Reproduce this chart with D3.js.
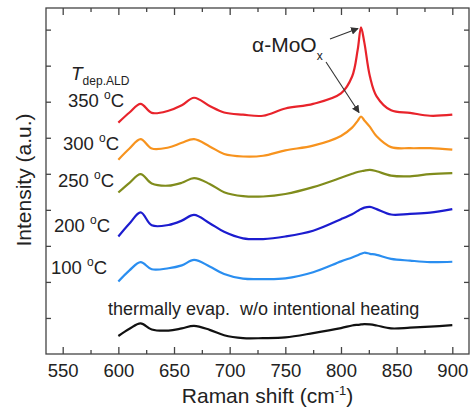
<!DOCTYPE html>
<html>
<head>
<meta charset="utf-8" />
<title>Raman spectra MoOx</title>
<style type="text/css">
  body { margin: 0; background: #fff; }
  text { font-family: "Liberation Sans", Arial, sans-serif; fill: #222; }
</style>
<script src="https://d3js.org/d3.v7.min.js"></script>
</head>
<body>
<div id="chart-container"></div>
<script>

// wavenumbers (cm-1)
var shift = [600, 610, 620, 630, 645, 657, 668, 682, 695, 712, 730, 750, 775, 800, 810, 815, 818, 821, 826, 832, 845, 862, 880, 900];

// intensities (offset, a.u.)
var t350 = [6.42, 6.70, 6.94, 6.69, 6.75, 6.90, 7.11, 6.88, 6.70, 6.64, 6.61, 6.81, 6.94, 7.23, 7.70, 8.44, 9.06, 8.64, 7.70, 7.15, 6.76, 6.69, 6.61, 6.64];
var t300 = [5.39, 5.70, 5.96, 5.70, 5.73, 5.86, 5.96, 5.76, 5.55, 5.48, 5.50, 5.65, 5.78, 6.05, 6.28, 6.47, 6.59, 6.48, 6.30, 6.04, 5.74, 5.71, 5.71, 5.67];
var t250 = [4.48, 4.75, 4.99, 4.73, 4.67, 4.75, 4.88, 4.72, 4.49, 4.38, 4.37, 4.44, 4.63, 4.89, 5.00, 5.05, 5.07, 5.09, 5.11, 5.07, 4.95, 4.93, 4.99, 5.02];
var t200 = [3.26, 3.62, 3.93, 3.57, 3.58, 3.70, 3.86, 3.63, 3.39, 3.21, 3.19, 3.26, 3.42, 3.74, 3.88, 3.97, 4.02, 4.06, 4.08, 4.02, 3.87, 3.89, 3.92, 4.02];
var t100 = [2.01, 2.32, 2.55, 2.35, 2.38, 2.46, 2.61, 2.43, 2.22, 2.09, 2.08, 2.10, 2.27, 2.57, 2.68, 2.74, 2.78, 2.81, 2.78, 2.75, 2.64, 2.59, 2.55, 2.56];
var tEvap = [0.50, 0.70, 0.85, 0.68, 0.65, 0.71, 0.78, 0.67, 0.52, 0.44, 0.44, 0.46, 0.58, 0.72, 0.79, 0.81, 0.82, 0.83, 0.82, 0.79, 0.71, 0.73, 0.76, 0.80];

var seriesNames = ["350", "300", "250", "200", "100", "evap"];
var seriesColors = ["#e8232b", "#f7931e", "#808c1c", "#1c1ccf", "#2a8ef0", "#111111"];
var xTicks = [550, 600, 650, 700, 750, 800, 850, 900];

var margin = {top: 8, right: 3, bottom: 57, left: 46},
    width = 472 - margin.left - margin.right,
    height = 411 - margin.top - margin.bottom;

var svg = d3.select("#chart-container")
  .append("svg")
    .attr("width", width + margin.left + margin.right)
    .attr("height", height + margin.top + margin.bottom)
  .append("g")
    .attr("transform", "translate(" + margin.left + "," + margin.top + ")");

var x = d3.scaleLinear().domain([535, 915]).range([0, width]);
var y = d3.scaleLinear().domain([0, 9.6]).range([height, 0]);

// frame
svg.append("rect")
  .attr("width", width).attr("height", height)
  .attr("fill", "none").attr("stroke", "#444").attr("stroke-width", 1.3);

var minor = d3.range(575, 900, 50);
var yTickVals = d3.range(1, 10);

function tickStyle(g) {
  g.select(".domain").remove();
  g.selectAll("line").attr("stroke", "#444").attr("stroke-width", 1.3);
}

// bottom axis (ticks inward)
svg.append("g")
  .attr("transform", "translate(0," + height + ")")
  .call(d3.axisBottom(x).tickValues(xTicks).tickSizeInner(-7).tickSizeOuter(0).tickPadding(10).tickFormat(d3.format("d")))
  .call(tickStyle)
  .selectAll("text")
    .style("font-size", "18.5px").attr("fill", "#222").style("font-family", "Liberation Sans, Arial, sans-serif");

svg.append("g")
  .attr("transform", "translate(0," + height + ")")
  .call(d3.axisBottom(x).tickValues(minor).tickSizeInner(-4).tickSizeOuter(0).tickFormat(""))
  .call(tickStyle);

// top axis
svg.append("g")
  .call(d3.axisTop(x).tickValues(xTicks).tickSizeInner(-7).tickSizeOuter(0).tickFormat(""))
  .call(tickStyle);
svg.append("g")
  .call(d3.axisTop(x).tickValues(minor).tickSizeInner(-4).tickSizeOuter(0).tickFormat(""))
  .call(tickStyle);

// left / right axes
svg.append("g")
  .call(d3.axisLeft(y).tickValues(yTickVals).tickSizeInner(-5).tickSizeOuter(0).tickFormat(""))
  .call(tickStyle);
svg.append("g")
  .attr("transform", "translate(" + width + ",0)")
  .call(d3.axisRight(y).tickValues(yTickVals).tickSizeInner(-5).tickSizeOuter(0).tickFormat(""))
  .call(tickStyle);

// spectra
var allSeries = [t350, t300, t250, t200, t100, tEvap];
var line = d3.line()
  .x(function(d, i) { return x(shift[i]); })
  .y(function(d) { return y(d); })
  .curve(d3.curveCatmullRom.alpha(0.5));

svg.selectAll(".spec")
  .data(allSeries)
  .enter()
  .append("path")
  .attr("class", "spec")
  .attr("d", function(d) { return line(d); })
  .attr("fill", "none")
  .attr("stroke", function(d, i) { return seriesColors[i]; })
  .attr("stroke-width", 2.2)
  .attr("stroke-linejoin", "round");

// temperature labels
var labelPos = [[22, 99], [17, 142], [12, 179], [8, 224], [5, 266]];
var tempLabels = svg.selectAll(".tlab")
  .data(labelPos)
  .enter()
  .append("text")
  .attr("class", "tlab")
  .attr("x", function(d) { return d[0]; })
  .attr("y", function(d) { return d[1]; })
  .style("font-size", "18.5px");
tempLabels.append("tspan").text(function(d, i) { return seriesNames[i] + " "; });
tempLabels.append("tspan").attr("dy", -8).style("font-size", "12px").text("o");
tempLabels.append("tspan").attr("dy", 8).text("C");

// T dep.ALD
var tl = svg.append("text").attr("x", 25).attr("y", 72).style("font-size", "19px");
tl.append("tspan").style("font-style", "italic").text("T");
tl.append("tspan").attr("dy", 5).style("font-size", "12px").text("dep.ALD");

svg.append("text")
  .attr("x", 62).attr("y", 307)
  .style("font-size", "18px")
  .attr("xml:space", "preserve")
  .text("thermally evap.  w/o intentional heating");

// alpha-MoOx annotation
var am = svg.append("text").attr("x", 206).attr("y", 44).style("font-size", "21px");
am.append("tspan").text("\u03b1-MoO");
am.append("tspan").attr("dy", 8).style("font-size", "12px").text("x");

svg.append("defs").append("marker")
  .attr("id", "arr")
  .attr("viewBox", "0 0 10 10")
  .attr("refX", 9).attr("refY", 5)
  .attr("markerWidth", 7).attr("markerHeight", 7)
  .attr("orient", "auto")
  .append("path").attr("d", "M0,0 L10,5 L0,10 z").attr("fill", "#333");

var peakIdx = shift.indexOf(818);
svg.append("line")
  .attr("x1", 284).attr("y1", 31)
  .attr("x2", x(818) - 3).attr("y2", y(t350[peakIdx]) + 1)
  .attr("stroke", "#333").attr("stroke-width", 1.1).attr("marker-end", "url(#arr)");
svg.append("line")
  .attr("x1", 280).attr("y1", 54)
  .attr("x2", x(818) - 2).attr("y2", y(t300[peakIdx]) - 4)
  .attr("stroke", "#333").attr("stroke-width", 1.1).attr("marker-end", "url(#arr)");

// axis titles
var xt = svg.append("text")
  .attr("x", width / 2 + 10).attr("y", height + 49)
  .attr("text-anchor", "middle")
  .style("font-size", "21px");
xt.append("tspan").text("Raman shift (cm");
xt.append("tspan").attr("dy", -8).style("font-size", "13px").text("-1");
xt.append("tspan").attr("dy", 8).text(")");

svg.append("text")
  .attr("transform", "rotate(-90)")
  .attr("x", -172).attr("y", -15)
  .attr("text-anchor", "middle")
  .style("font-size", "21px")
  .text("Intensity (a.u.)");

</script>
</body>
</html>
